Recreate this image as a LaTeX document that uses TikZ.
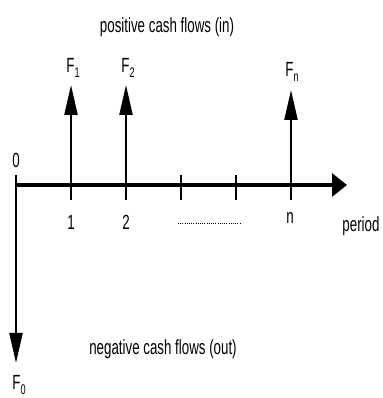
\documentclass[tikz,border=0pt]{standalone}
\usepackage{fontspec}
\setmainfont[FakeStretch=0.65]{Liberation Sans}
\usetikzlibrary{arrows.meta}
\begin{document}
\begin{tikzpicture}[x=1pt,y=1pt,
  lbl/.style={inner sep=0pt,font=\fontsize{20.5}{22}\selectfont},
  flow/.style={line width=2.3pt,-{Triangle[length=30pt,width=13pt]}},
  axisline/.style={line width=3.2pt,-{Triangle[length=15pt,width=23pt]}},
  tick/.style={line width=2.3pt}]
\useasboundingbox (0,0) rectangle (382,398);
% axis
\coordinate (O) at (16,213);
\coordinate (End) at (347,213);
\draw[axisline] (O) -- (End);
% ticks
\foreach \n/\x in {1/71,2/126,3/181,4/236,5/291}{
  \coordinate (tt\n) at (\x,223);
  \coordinate (tb\n) at (\x,198);
  \draw[tick] (tt\n) -- (tb\n);
}
\coordinate (Otop) at (16,223);
% positive flows
\coordinate (up1) at (71,313);
\coordinate (up2) at (126,313);
\coordinate (upn) at (291,308);
\draw[flow] (tt1|-O) -- (up1);
\draw[flow] (tt2|-O) -- (up2);
\draw[flow] (tt5|-O) -- (upn);
% negative flow
\coordinate (down0) at (16,35);
\draw[flow] (Otop) -- (down0);
% labels
\node[lbl] (title) at (167,371) {positive cash flows (in)};
\node[lbl] (F1) at (73,330) {F\raisebox{-0.45ex}{\fontsize{14}{14}\selectfont 1}};
\node[lbl] (F2) at (128,330) {F\raisebox{-0.45ex}{\fontsize{14}{14}\selectfont 2}};
\node[lbl] (Fn) at (292,326) {F\raisebox{-0.45ex}{\fontsize{14}{14}\selectfont n}};
\node[lbl] (zero) at (16,238) {0};
\node[lbl] (one) at (71,176) {1};
\node[lbl] (two) at (126,176) {2};
\node[lbl] (nn) at (290,180) {n};
\node[lbl] (period) at (361,172) {period};
\coordinate (dotA) at (178,175);
\coordinate (dotB) at (240,175);
\draw[line width=0.8pt,dash pattern=on 0.8pt off 1.4pt] (dotA) -- (dotB);
\node[lbl] (neg) at (163,49) {negative cash flows (out)};
\node[lbl] (F0) at (19,13) {F\raisebox{-0.45ex}{\fontsize{14}{14}\selectfont 0}};
\end{tikzpicture}
\end{document}
